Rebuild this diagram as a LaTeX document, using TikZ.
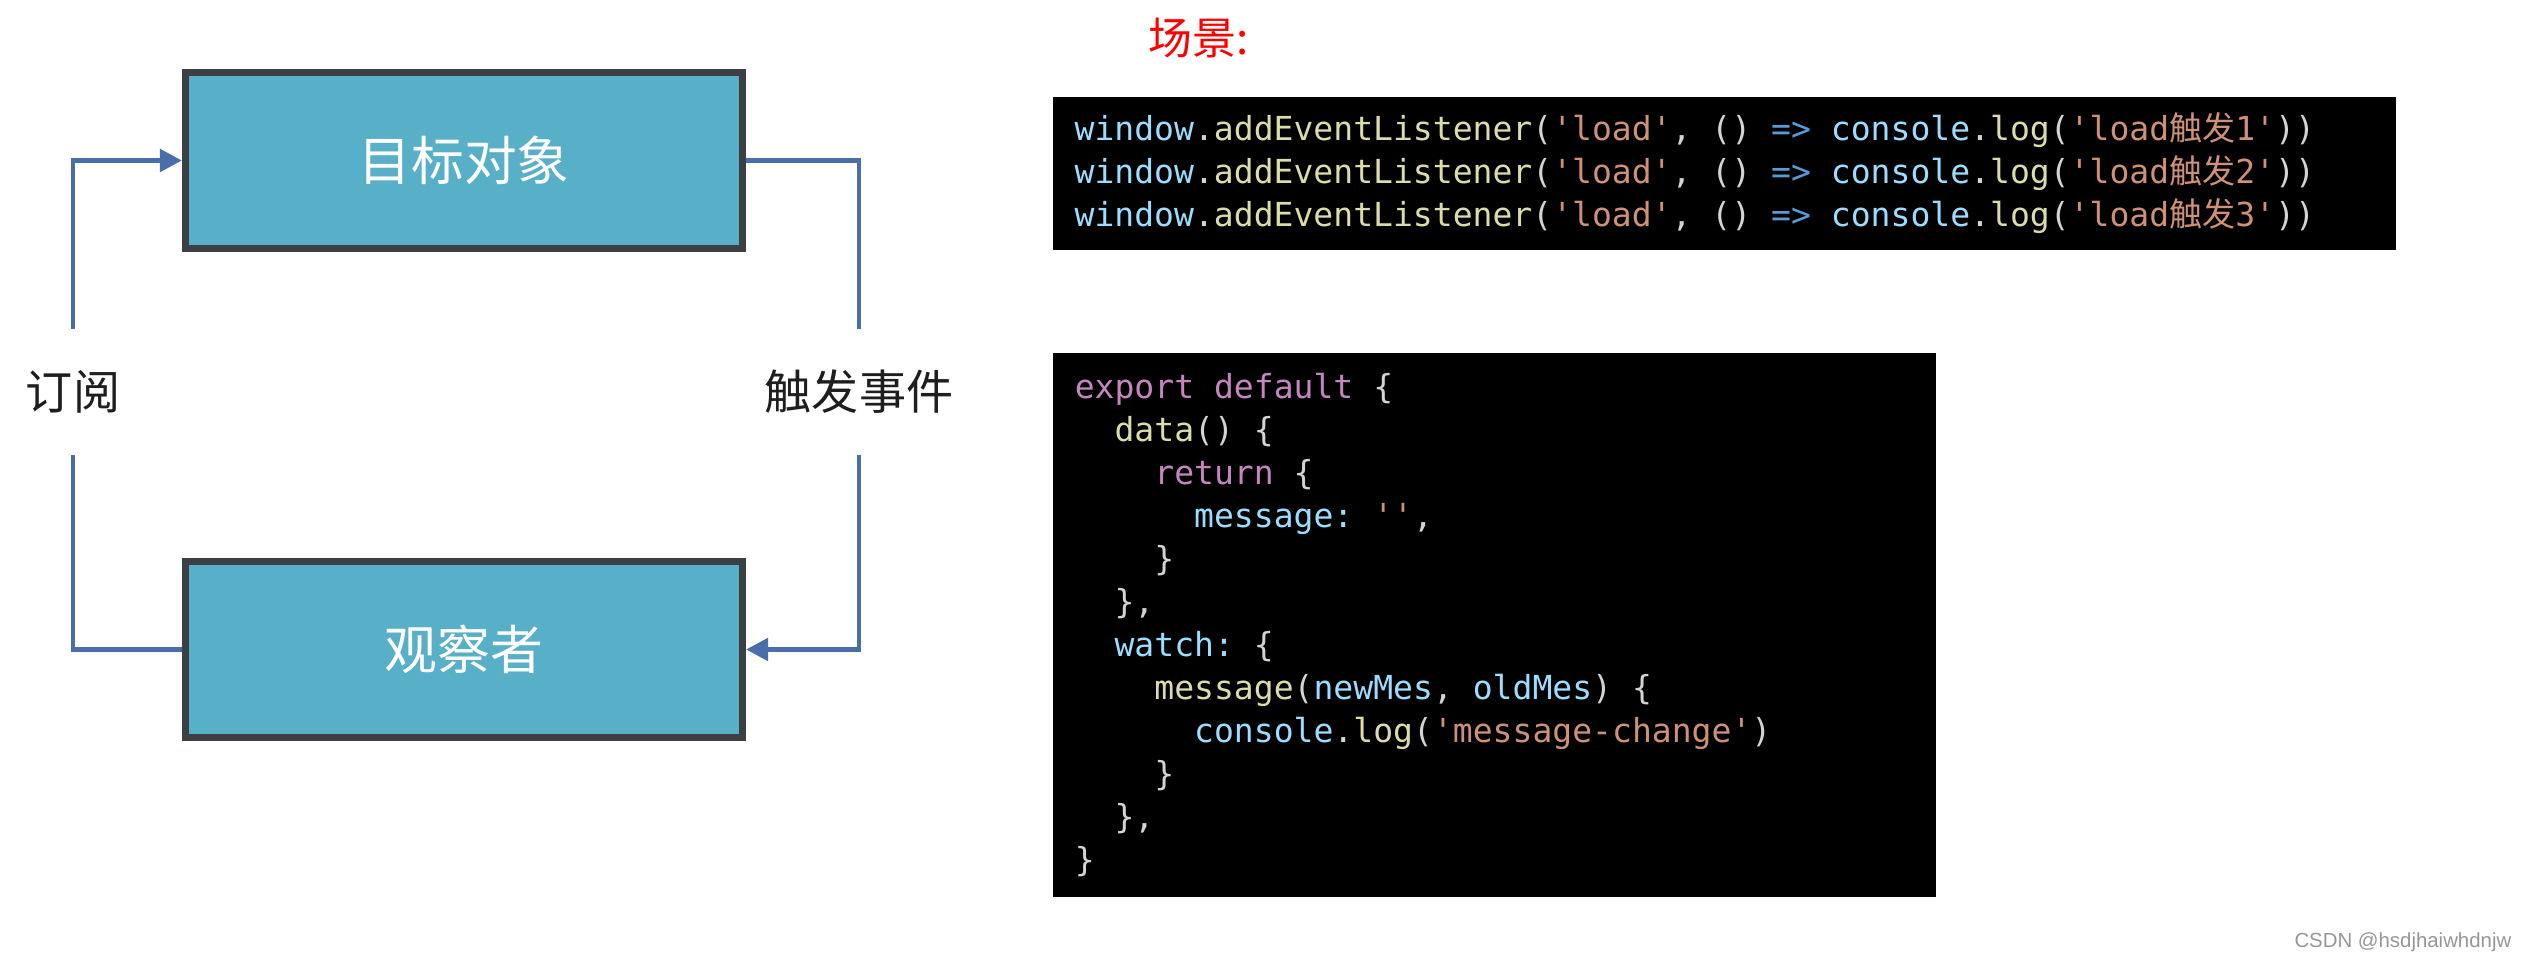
\documentclass[tikz,border=0pt]{standalone}
\usepackage{fontspec}
\usepackage{xcolor}
\usepackage{tikz}
\usetikzlibrary{positioning, arrows.meta}
\setmainfont{Noto Sans CJK SC}
\setmonofont{DejaVu Sans Mono}
\newfontfamily\cjk{Noto Sans CJK SC}
\newfontfamily\wmfont{Liberation Sans}
\definecolor{obFill}{RGB}{88, 175, 200}
\definecolor{obEdge}{RGB}{60, 64, 68}
\definecolor{obLink}{RGB}{74, 110, 170}
\definecolor{obText}{RGB}{30, 30, 30}
\definecolor{jsPlain}{RGB}{212, 212, 212}
\definecolor{jsVarC}{RGB}{156, 220, 254}
\definecolor{jsFunC}{RGB}{220, 220, 170}
\definecolor{jsStrC}{RGB}{206, 145, 120}
\definecolor{jsOpC}{RGB}{86, 156, 214}
\definecolor{jsKwC}{RGB}{197, 134, 192}
\definecolor{wmGray}{RGB}{150, 150, 150}
\newcommand{\jsvar}[1]{\textcolor{jsVarC}{#1}}
\newcommand{\jsfun}[1]{\textcolor{jsFunC}{#1}}
\newcommand{\jsstr}[1]{\textcolor{jsStrC}{#1}}
\newcommand{\jsop}[1]{\textcolor{jsOpC}{#1}}
\newcommand{\jskw}[1]{\textcolor{jsKwC}{#1}}
\newcommand{\codeind}[1]{\hspace*{#1\fontcharwd\font`\0}}
% full-width spaces inside code (align=left makes them narrow)
\newcommand{\codesp}{\spaceskip=\fontcharwd\font`\0\relax\xspaceskip=\spaceskip}
\tikzset{
    role/.style={
        rectangle,
        draw=obEdge,
        line width=1.9pt,
        fill=obFill,
        text=white,
        font=\fontsize{15}{18}\selectfont,
        minimum width=5.57cm,
        minimum height=1.76cm
    },
    tag/.style={
        text=obText,
        font=\fontsize{13.4}{16}\selectfont,
        minimum height=1.25cm,
        inner sep=0pt
    },
    link/.style={
        draw=obLink,
        line width=1.4pt
    },
    into/.style={
        -{Triangle[length=0.22cm, width=0.22cm]}
    },
    codebox/.style={
        rectangle,
        fill=black,
        text=jsPlain,
        align=left,
        inner xsep=0.22cm,
        inner ysep=0pt,
        font=\ttfamily\fontsize{9.4}{12.25}\selectfont
    }
}

\begin{document}
\begin{tikzpicture}[x=0.01cm, y=-0.01cm]
  \useasboundingbox (0,0) rectangle (2528,962);

  % Observer loop
  \node[role] (target) at (464,160.5) {目标对象};
  \node[role] (observer) at (464,649.5) {观察者};
  \node[tag] (sub) at (73,392) {订阅};
  \node[tag] (trig) at (859,392) {触发事件};

  \draw[link, into] (sub.north) |- (target.west);
  \draw[link] (observer.west) -| (sub.south);
  \draw[link] (target.east) -| (trig.north);
  \draw[link, into] (trig.south) |- (observer.east);

  % Scene
  \node[text=red, font=\fontsize{12.5}{15}\selectfont] (scene) at (1199,38) {场景:};

  \node[codebox, text width=12.99cm, minimum height=1.53cm] (loadcode) at (1724.5,173.5) {\codesp
\jsvar{window}.\jsfun{addEventListener}(\jsstr{'load'}, () \jsop{=>} \jsvar{console}.\jsfun{log}(\jsstr{'load{\cjk 触发}1'}))\\
\jsvar{window}.\jsfun{addEventListener}(\jsstr{'load'}, () \jsop{=>} \jsvar{console}.\jsfun{log}(\jsstr{'load{\cjk 触发}2'}))\\
\jsvar{window}.\jsfun{addEventListener}(\jsstr{'load'}, () \jsop{=>} \jsvar{console}.\jsfun{log}(\jsstr{'load{\cjk 触发}3'}))};

  \node[codebox, text width=8.39cm, minimum height=5.44cm] (watchcode) at (1494.5,625) {\codesp
\jskw{export default} \{\\
\codeind{2}\jsfun{data}() \{\\
\codeind{4}\jskw{return} \{\\
\codeind{6}\jsvar{message:} \jsstr{''},\\
\codeind{4}\}\\
\codeind{2}\},\\
\codeind{2}\jsvar{watch:} \{\\
\codeind{4}\jsfun{message}(\jsvar{newMes}, \jsvar{oldMes}) \{\\
\codeind{6}\jsvar{console}.\jsfun{log}(\jsstr{'message-change'})\\
\codeind{4}\}\\
\codeind{2}\},\\
\}};

  % Watermark
  \node[anchor=east, inner sep=0pt, text=wmGray, font=\wmfont\fontsize{5.8}{7}\selectfont] (mark) at (2512,942) {CSDN @hsdjhaiwhdnjw};
\end{tikzpicture}
\end{document}
